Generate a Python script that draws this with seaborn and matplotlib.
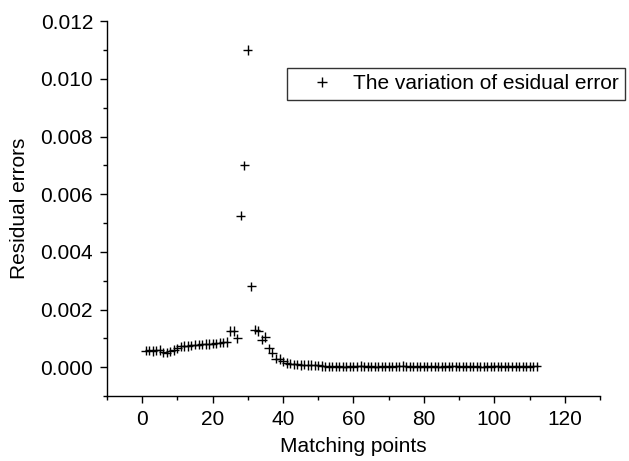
import numpy as np
import pandas as pd
import matplotlib
matplotlib.use("Agg")
import matplotlib.pyplot as plt
import seaborn as sns
from matplotlib.ticker import MultipleLocator, FormatStrFormatter

# data
matching_points = list(range(1, 113))
residual_errors = [
    0.00057, 0.00058, 0.00056, 0.00059, 0.00060, 0.00052, 0.00050, 0.00055,
    0.00060, 0.00065, 0.00072, 0.00073, 0.00073, 0.00076, 0.00078, 0.00078,
    0.00079, 0.00080, 0.00080, 0.00081, 0.00083, 0.00085, 0.00086, 0.00087,
    0.00125, 0.00125, 0.00100, 0.00525, 0.00700, 0.01100, 0.00280, 0.00130,
    0.00125, 0.00095, 0.00105, 0.00065, 0.00050, 0.00030, 0.00028, 0.00020,
    0.00015, 0.00012, 0.00010, 0.00010, 0.00008, 0.00009, 0.00007, 0.00008,
    0.00006, 0.00006, 0.00004, 0.00003, 0.00002, 0.00003, 0.00002, 0.00003,
    0.00002, 0.00002, 0.00003, 0.00002, 0.00003, 0.00004, 0.00003, 0.00002,
    0.00003, 0.00002, 0.00002, 0.00003, 0.00002, 0.00003, 0.00002, 0.00003,
    0.00003, 0.00004, 0.00003, 0.00002, 0.00003, 0.00002, 0.00003, 0.00002,
    0.00003, 0.00002, 0.00003, 0.00002, 0.00002, 0.00003, 0.00002, 0.00003,
    0.00003, 0.00002, 0.00003, 0.00002, 0.00003, 0.00002, 0.00003, 0.00002,
    0.00002, 0.00003, 0.00002, 0.00003, 0.00003, 0.00002, 0.00003, 0.00002,
    0.00003, 0.00002, 0.00003, 0.00002, 0.00003, 0.00002, 0.00003, 0.00003,
]
legend_label = "The variation of esidual error"

df = pd.DataFrame({"x": matching_points, "y": residual_errors,
                   "serie": legend_label})

sns.set_style("ticks")
plt.rcParams["font.family"] = ["Liberation Sans", "DejaVu Sans"]
plt.rcParams["text.color"] = "black"
plt.rcParams["axes.labelcolor"] = "black"

fig = plt.figure(figsize=(6.29, 4.61), dpi=100)
ax = fig.add_axes([0.170, 0.141, 0.784, 0.813])

sns.scatterplot(data=df, x="x", y="y", hue="serie", palette=["black"],
                marker="+", s=45, linewidth=1.0, ax=ax, legend=True)

ax.set_xlim(-10, 130)
ax.set_ylim(-0.001, 0.012)
ax.xaxis.set_major_locator(MultipleLocator(20))
ax.xaxis.set_minor_locator(MultipleLocator(10))
ax.yaxis.set_major_locator(MultipleLocator(0.002))
ax.yaxis.set_minor_locator(MultipleLocator(0.001))
ax.yaxis.set_major_formatter(FormatStrFormatter("%.3f"))
ax.tick_params(which="major", direction="out", length=5, width=1,
               labelsize=15, colors="black", pad=5)
ax.tick_params(which="minor", direction="out", length=3, width=1,
               colors="black")
sns.despine(ax=ax)
for sp in ["left", "bottom"]:
    ax.spines[sp].set_color("black")
    ax.spines[sp].set_linewidth(1)

ax.set_xlabel("Matching points", fontsize=15, labelpad=6, color="black")
ax.set_ylabel("Residual errors", fontsize=15, labelpad=8, color="black")

leg = ax.legend(loc="upper left", bbox_to_anchor=(0.456, 0.852),
                bbox_transform=fig.transFigure, fontsize=15, frameon=True,
                fancybox=False, borderpad=0.3, handletextpad=0.1,
                handlelength=2.8, borderaxespad=0)
leg.get_frame().set_edgecolor("black")
leg.get_frame().set_linewidth(1)
for t in leg.get_texts():
    t.set_color("black")

fig.savefig("out.png", dpi=100)
